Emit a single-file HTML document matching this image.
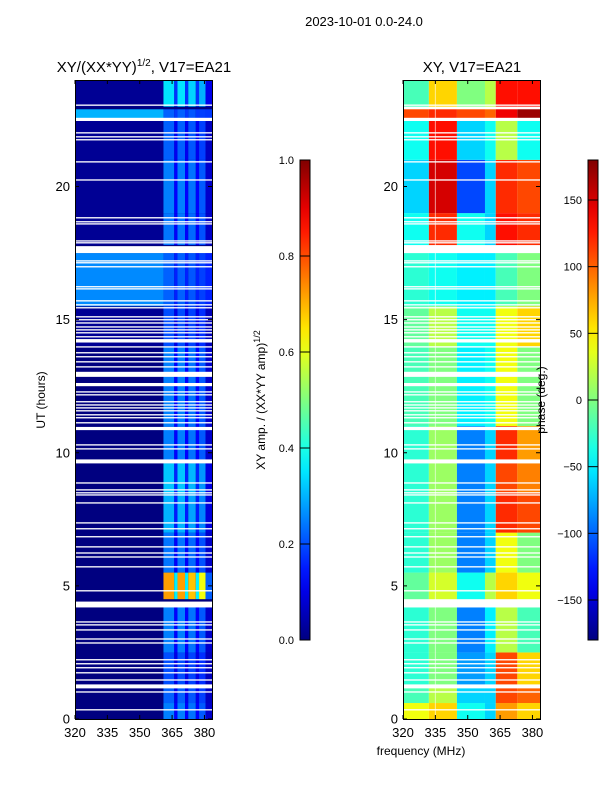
<!DOCTYPE html>
<html><head><meta charset="utf-8"><style>
body{margin:0;background:#fff;width:600px;height:800px;overflow:hidden}
svg{display:block;font-family:"Liberation Sans",sans-serif}
</style></head><body>
<svg id="fig" width="600" height="800"></svg>
<script>
// ---- data ----
const blockStart = [0,0.6,1.2,2.5,4.5,5.5,7,8.5,9.6,11,14,15.5,17.8,19,21,22.5,23];
const blockEnd   = [0.6,1.2,2.5,4.2,5.5,7,8.5,9.6,11,14,15.5,17.5,19,21,22.5,22.9,24];
const ampBg      = [0,0,0,0,0,0,0,0,0,0,0.02,0.26,0.02,0.02,0.02,0.3,0.02];
const ampStripe  = [0.25,0.22,0.2,0.25,0.72,0.24,0.3,0.32,0.25,0.25,0.2,0.22,0.24,0.25,0.22,0.22,0.35];
const ampFreqEdges = [320,361,366,367.5,371,372.5,376,377.5,380.5,383.5];
const ampColFactor = [0,1,0.5,1,0.5,0.95,0.5,0.85,0.3];
const phaseFreqEdges = [320,332,345,358,363,373,383.5];
const phaseVals = [
 [40,60,-40,-60,80,60],
 [-20,20,-60,-60,110,100],
 [-30,0,-80,-60,110,60],
 [-30,0,-90,-50,20,-20],
 [-10,30,-40,20,60,40],
 [-30,10,-90,-60,40,0],
 [-30,10,-90,-60,120,110],
 [-30,10,-90,-60,110,90],
 [-30,10,-90,-60,120,80],
 [-20,0,-50,-40,40,0],
 [-10,20,-40,-40,40,60],
 [-30,-40,-50,-50,-20,0],
 [-40,120,-40,-60,130,120],
 [-60,150,-110,-60,120,110],
 [-40,130,-60,-40,20,-40],
 [110,120,110,100,140,170],
 [-20,60,0,20,130,130]];
const gapStart = [23.03,22.46,21.99,21.84,21.73,20.9,20.22,18.8,18.65,18.57,17.93,17.86,17.5,17.18,17.11,16.96,16.21,16.13,15.68,15.53,15.42,15.08,14.97,14.85,14.7,14.59,14.48,14.33,14.14,13.95,13.73,13.58,13.39,13.2,12.85,12.5,12.26,12.15,11.89,11.77,11.66,11.55,11.4,11.29,11.1,10.85,10.27,10.12,9.6,8.84,8.58,8.47,8.39,8.09,7.34,7.12,6.82,6.44,6.21,6.06,5.69,4.79,4.19,3.62,3.51,3.32,2.98,2.83,2.2,2.05,1.9,1.71,1.44,1.15,0.99,0.32];
const gapEnd   = [23.08,22.58,22.04,21.89,21.78,20.95,20.27,18.85,18.7,18.62,17.98,17.91,17.76,17.23,17.16,17.01,16.26,16.18,15.73,15.58,15.47,15.13,15.02,14.9,14.75,14.64,14.53,14.38,14.27,14.0,13.78,13.63,13.44,13.25,13.04,12.62,12.31,12.2,11.94,11.82,11.71,11.6,11.45,11.34,11.15,10.97,10.32,10.17,9.75,8.89,8.63,8.52,8.44,8.14,7.39,7.17,6.87,6.49,6.26,6.11,5.74,4.84,4.41,3.67,3.56,3.37,3.03,2.88,2.25,2.1,1.95,1.76,1.49,1.3,1.04,0.37];
const yTicks = [0,5,10,15,20];
const xTicks = [320,335,350,365,380];
const ampTicks = [0.0,0.2,0.4,0.6,0.8,1.0];
const phaseTicks = [-150,-100,-50,0,50,100,150];

// ---- helpers ----
const NS="http://www.w3.org/2000/svg", svg=document.getElementById('fig');
function el(t,a,p){const e=document.createElementNS(NS,t);for(const k in a)e.setAttribute(k,a[k]);(p||svg).appendChild(e);return e;}
function jet(v){v=Math.max(0,Math.min(1,v));
 const r=Math.max(0,Math.min(1,1.5-Math.abs(4*v-3))),g=Math.max(0,Math.min(1,1.5-Math.abs(4*v-2))),b=Math.max(0,Math.min(1,1.5-Math.abs(4*v-1)));
 return `rgb(${Math.round(r*255)},${Math.round(g*255)},${Math.round(b*255)})`;}
const Y0=719,Y1=80,H0=0,H1=24;
const yS=h=>Y0+(h-H0)/(H1-H0)*(Y1-Y0);
function xScale(x0){return f=>x0+(f-320)/(383.5-320)*137;}
const xL=xScale(75), xR=xScale(403);
function txt(s,a,name){const t=el('text',a);t.textContent=s;return t;}

// ---- left panel (amplitude) ----
const gL=el('g',{});


el('rect',{x:75,y:80,width:137,height:639,fill:'#00007f'},gL);
blockStart.forEach((s,i)=>{
  for(let c=0;c<ampFreqEdges.length-1;c++){
    const v=c===0?ampBg[i]:Math.max(ampBg[i]*0.6,ampStripe[i]*ampColFactor[c]);
    const r=el('rect',{x:xL(ampFreqEdges[c]),y:yS(blockEnd[i]),width:xL(ampFreqEdges[c+1])-xL(ampFreqEdges[c]),height:yS(s)-yS(blockEnd[i]),fill:jet(v)},gL);
    
    
  }
});
// ---- right panel (phase) ----
const gR=el('g',{});


blockStart.forEach((s,i)=>{
  for(let c=0;c<phaseFreqEdges.length-1;c++){
    const r=el('rect',{x:xR(phaseFreqEdges[c]),y:yS(blockEnd[i]),width:xR(phaseFreqEdges[c+1])-xR(phaseFreqEdges[c]),height:yS(s)-yS(blockEnd[i]),fill:jet((phaseVals[i][c]+180)/360)},gR);
    
    
  }
});
el('line',{x1:xR(335),x2:xR(335),y1:80,y2:719,stroke:'#fff','stroke-opacity':0.6,'stroke-width':1},gR);
// gaps
[[75,gL],[403,gR]].forEach(([x0,g])=>{
  gapStart.forEach((s,i)=>{
    const r=el('rect',{x:x0,y:yS(gapEnd[i]),width:137,height:yS(s)-yS(gapEnd[i]),fill:'#fff'},g);
    
    
  });
});
// axes frames & ticks
[[75,xL,'left'],[403,xR,'right']].forEach(([x0,xs,nm])=>{
  const f=el('rect',{x:x0+0.5,y:80.5,width:137,height:639,fill:'none',stroke:'#000','stroke-width':1});
  
  
  yTicks.forEach(t=>{const y=yS(t);
    el('line',{x1:x0,x2:x0+4,y1:y,y2:y,stroke:'#000'});el('line',{x1:x0+137,x2:x0+133,y1:y,y2:y,stroke:'#000'});
    txt(String(t),{x:x0-5,y:y+4.5,'font-size':13,'text-anchor':'end'},nm+'-y-tick-label');});
  xTicks.forEach(t=>{const x=xs(t);
    el('line',{x1:x,x2:x,y1:719,y2:715,stroke:'#000'});el('line',{x1:x,x2:x,y1:80,y2:84,stroke:'#000'});
    txt(String(t),{x:x,y:737,'font-size':13,'text-anchor':'middle'},nm+'-x-tick-label');});
});
// colorbars
const grad=el('linearGradient',{id:'jetg',x1:0,y1:1,x2:0,y2:0},el('defs',{}));
for(let k=0;k<=20;k++)el('stop',{offset:k/20,'stop-color':jet(k/20)},grad);
[[300,ampTicks,v=>640-v*480,v=>v.toFixed(1),'amp'],[588,phaseTicks,v=>400-v*480/360,v=>String(v).replace('-','\u2212'),'phase']].forEach(([x0,ticks,ys,fmt,nm])=>{
  const r=el('rect',{x:x0,y:160,width:10,height:480,fill:'url(#jetg)',stroke:'#000','stroke-width':1});
  
  
  ticks.forEach(t=>{const y=ys(t);el('line',{x1:x0,x2:x0+10,y1:y,y2:y,stroke:'#000'});
    txt(fmt(t),{x:x0-6,y:y+4,'font-size':11,'text-anchor':'end'},nm+'-colorbar-tick');});
});
// titles and labels
txt('2023-10-01 0.0-24.0',{x:364,y:26,'font-size':13,'text-anchor':'middle'},'figure-title');
const t1=txt('XY/(XX*YY)',{x:144,y:72,'font-size':15,'text-anchor':'middle'},'left-panel-title');
const sp=el('tspan',{dy:-6,'font-size':10},t1);sp.textContent='1/2';
const sp2=el('tspan',{dy:6},t1);sp2.textContent=', V17=EA21';
txt('XY, V17=EA21',{x:472,y:72,'font-size':15,'text-anchor':'middle'},'right-panel-title');
txt('UT (hours)',{x:45,y:400,'font-size':12,'text-anchor':'middle',transform:'rotate(-90 45 400)'},'y-axis-title');
txt('frequency (MHz)',{x:421,y:755,'font-size':12,'text-anchor':'middle'},'x-axis-title');
const cl=txt('XY amp. / (XX*YY amp)',{x:265,y:400,'font-size':12,'text-anchor':'middle',transform:'rotate(-90 265 400)'},'amp-colorbar-label');
const cs=el('tspan',{dy:-5,'font-size':9},cl);cs.textContent='1/2';
txt('phase (deg.)',{x:545,y:400,'font-size':12,'text-anchor':'middle',transform:'rotate(-90 545 400)'},'phase-colorbar-label');
</script>
</body></html>
